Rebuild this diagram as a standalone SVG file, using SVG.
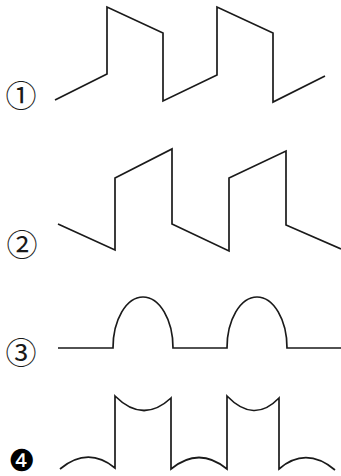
<svg xmlns="http://www.w3.org/2000/svg" width="341" height="476" viewBox="0 0 341 476">
<style>
.w{fill:none;stroke:#1a1a1a;stroke-width:1.7;stroke-linejoin:miter;stroke-linecap:butt}
.l{font-family:"Noto Sans CJK JP","DejaVu Sans",sans-serif;font-size:31px;fill:#1a1a1a;text-anchor:middle;dominant-baseline:central}
.d{font-family:"DejaVu Sans",sans-serif;font-size:30px;fill:#000;text-anchor:middle;dominant-baseline:central}
</style>
<rect width="341" height="476" fill="#fff"/>
<g id="label1"><text class="l" x="21" y="93">①</text></g>
<g id="label2"><text class="l" x="22" y="242">②</text></g>
<g id="label3"><text class="l" x="21" y="350">③</text></g>
<g id="label4"><text class="d" x="22" y="460">❹</text></g>
<g id="waves">
<path id="wave1" class="w" d="M55,100 L107,74 L107,7 L163,33 L163,101 L217,75 L217,7 L273,33 L273,102 L325,76"/>
<path id="wave2" class="w" d="M58,224 L115,250 L115,178 L172,149 L172,224 L229,251 L229,178 L286,151 L286,225 L341,249"/>
<path id="wave3" class="w" d="M58,348 L113,348 A30,51 0 0 1 173,348 L227,348 A30,51 0 0 1 287,348 L341,348"/>
<path id="wave4" class="w" d="M60,469 Q88,446 115,468 L115,396 Q143,424 171,398 L171,469 Q199,446 227,469 L227,396 Q254,424 279,398 L279,469 Q306,446 335,470"/>
</g>
</svg>
